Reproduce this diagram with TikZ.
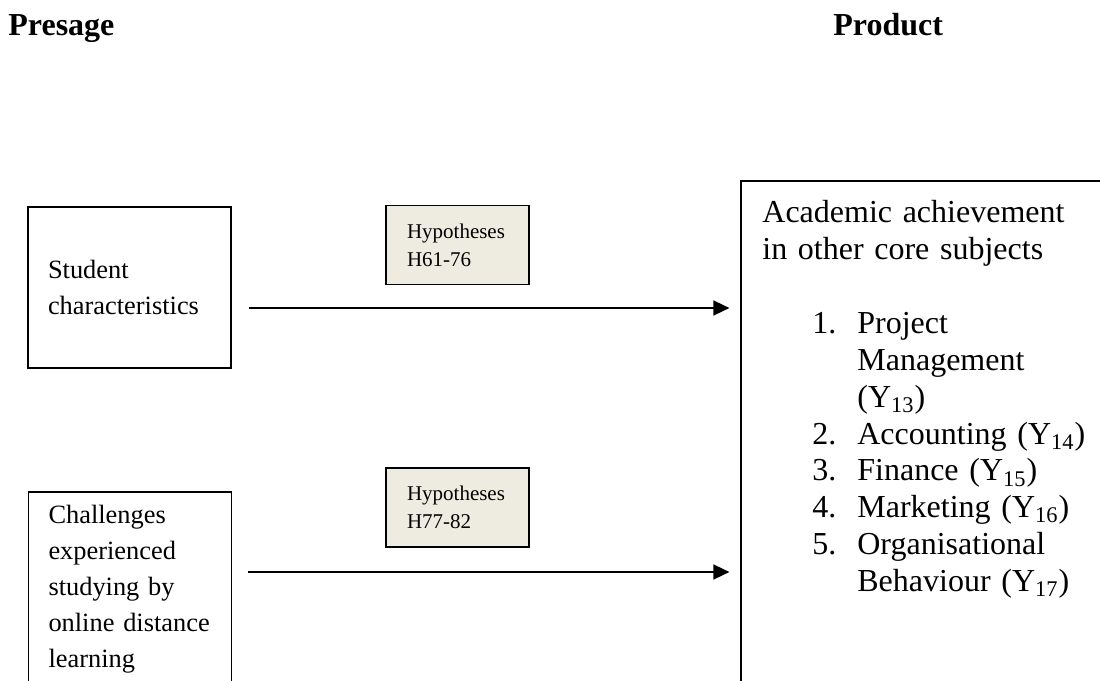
\documentclass[tikz,border=0pt]{standalone}
\usepackage{fontspec}
\setmainfont{Liberation Serif}
\usetikzlibrary{arrows.meta, positioning, fit}
\definecolor{ink}{HTML}{000000}
\definecolor{hypo-bg}{HTML}{EEECE1}

\newcommand{\subjnum}[1]{\hspace*{25pt}\makebox[22.5pt][l]{#1}}
\newcommand{\subjcont}{\hspace*{47.5pt}}

\begin{document}
\begin{tikzpicture}[
    x=0.5pt, y=-0.5pt,
    >={Triangle[length=8pt, width=7.5pt]},
    heading/.style={font=\fontsize{16}{19}\selectfont\bfseries, anchor=base west, inner sep=0pt},
    factor/.style={
        rectangle, draw=ink, line width=0.6pt,
        align=left, text width=81.5pt,
        inner xsep=10pt, inner ysep=0pt,
        font=\fontsize{13.2}{18}\selectfont,
    },
    hypo/.style={
        rectangle, draw=ink, line width=0.9pt,
        fill=hypo-bg, align=left, text width=50.5pt,
        minimum width=71.5pt, minimum height=39.5pt,
        inner xsep=10.5pt, inner ysep=0pt,
        font=\fontsize{10.5}{14}\selectfont,
    },
    outcome/.style={
        align=left, text width=170pt,
        inner xsep=10.5pt, inner ysep=9.5pt,
        font=\fontsize{16}{18.45}\selectfont,
    },
    frame/.style={draw=ink, line width=0.6pt, inner sep=0pt},
    flow/.style={->, line width=0.8pt, ink},
]

\clip (0,0) rectangle (1100,681);

% column headings
\node[heading] (presage) at (8,35)   {Presage};
\node[heading] (product) at (833,35) {Product};

% presage factors
\node[factor, minimum height=80.5pt] (student) at (129.5,287.5)
    {Student\\characteristics};
\node[factor, minimum height=97pt] (challenge) at (130,589)
    {Challenges\\experienced\\studying by\\online distance\\learning};

% hypotheses
\node[hypo] (hypoA) at (457.5,245)   {Hypotheses\\H61-76};
\node[hypo] (hypoB) at (457.5,507.5) {Hypotheses\\H77-82};

% product: academic achievement (box runs off the page)
\node[outcome, anchor=north west] (achieve) at (741,181) {%
    Academic achievement\\
    in other core subjects\\[18.45pt]
    \subjnum{1.}Project\\
    \subjcont Management\\
    \subjcont (Y\textsubscript{13})\\
    \subjnum{2.}Accounting (Y\textsubscript{14})\\
    \subjnum{3.}Finance (Y\textsubscript{15})\\
    \subjnum{4.}Marketing (Y\textsubscript{16})\\
    \subjnum{5.}Organisational\\
    \subjcont Behaviour (Y\textsubscript{17})};
\coordinate (cutcorner) at (1130,720);
\node[frame, fit=(achieve.north west)(cutcorner)] (achieveframe) {};

% paths
\coordinate (arrowA) at ([yshift=-10.25pt]student.east);
\coordinate (arrowB) at ([yshift=8.5pt]challenge.east);
\draw[flow, shorten <=8.5pt, shorten >=5.5pt] (arrowA) -- (arrowA -| achieveframe.west);
\draw[flow, shorten <=8pt, shorten >=5.5pt]   (arrowB) -- (arrowB -| achieveframe.west);

\end{tikzpicture}
\end{document}
